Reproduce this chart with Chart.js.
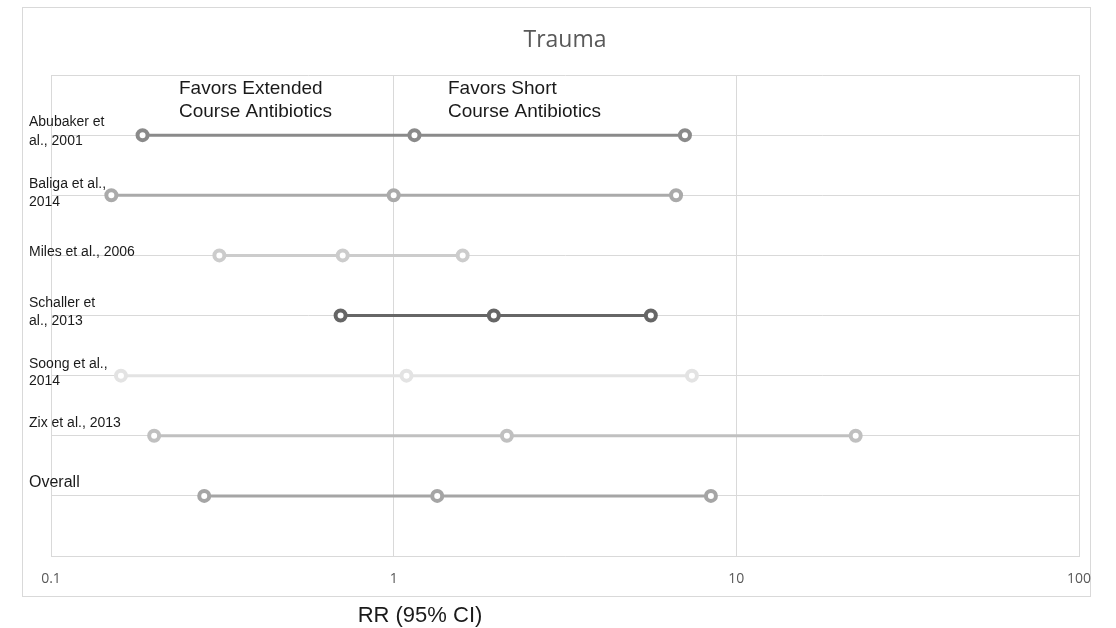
<!DOCTYPE html>
<html>
<head>
<meta charset="utf-8">
<script src="https://cdn.jsdelivr.net/npm/chart.js@4/dist/chart.umd.min.js"></script>
<style>
  html, body { margin: 0; padding: 0; background: #ffffff; }
  #wrap { position: relative; width: 1116px; height: 628px; }
</style>
</head>
<body>
<div id="wrap"><canvas id="chart" width="1116" height="628"></canvas></div>
<script>
// ======================
// DATA
// ======================
const studies = [
  ['Abubaker et', 'al., 2001'],
  ['Baliga et al.,', '2014'],
  ['Miles et al., 2006'],
  ['Schaller et', 'al., 2013'],
  ['Soong et al.,', '2014'],
  ['Zix et al., 2013'],
  ['Overall']
];
const rrLow  = [0.185, 0.15, 0.31, 0.70, 0.16, 0.20, 0.28];
const rrMid  = [1.15, 1.00, 0.71, 1.96, 1.09, 2.14, 1.34];
const rrHigh = [7.08, 6.67, 1.59, 5.63, 7.42, 22.3, 8.43];
const xTicks = [0.1, 1, 10, 100];

const warnaBaris = ['#8a8a8a', '#aaaaaa', '#cccccc', '#666666', '#e3e3e3', '#c0c0c0', '#a5a5a5'];
const gridColor = '#d9d9d9';

// posisi teks label baris relatif ke garis baris
const labelOffset = [[-12.5, 6], [-11.5, 6.5], [-3], [-12, 6], [-11.5, 6], [-12.5], [-13.5]];

// ======================
// DATASETS
// ======================
const datasets = studies.map((s, i) => ({
  label: s.join(' '),
  data: [
    { x: rrLow[i], y: i + 1 },
    { x: rrMid[i], y: i + 1 },
    { x: rrHigh[i], y: i + 1 }
  ],
  showLine: true,
  borderColor: warnaBaris[i],
  backgroundColor: '#ffffff',
  borderWidth: 3,
  pointRadius: 5,
  pointBorderWidth: 4,
  pointBackgroundColor: '#ffffff',
  pointBorderColor: warnaBaris[i]
}));

// ======================
// TEKS TAMBAHAN
// ======================
const teksPlugin = {
  id: 'teks',
  beforeDraw(chart) {
    const ctx = chart.ctx;
    ctx.save();
    ctx.strokeStyle = gridColor;
    ctx.lineWidth = 1;
    ctx.strokeRect(22.5, 7.5, 1068, 589);
    ctx.restore();
  },
  afterDraw(chart) {
    const ctx = chart.ctx;
    const y = chart.scales.y;
    ctx.save();
    ctx.fillStyle = '#1a1a1a';
    ctx.textAlign = 'left';
    ctx.textBaseline = 'middle';

    studies.forEach((lines, i) => {
      const py = y.getPixelForValue(i + 1);
      ctx.font = (i === studies.length - 1 ? '16px' : '14px') + ' "Liberation Sans", Arial, sans-serif';
      lines.forEach((t, j) => ctx.fillText(t, 29, py + labelOffset[i][j]));
    });

    ctx.font = '19px "Liberation Sans", Arial, sans-serif';
    ctx.fillText('Favors Extended', 179, 89);
    ctx.fillText('Course Antibiotics', 179, 112);
    ctx.fillText('Favors Short', 448, 89);
    ctx.fillText('Course Antibiotics', 448, 112);

    ctx.font = '22px "Liberation Sans", Arial, sans-serif';
    ctx.textAlign = 'center';
    ctx.fillText('RR (95% CI)', 420, 616);
    ctx.restore();
  }
};

new Chart(document.getElementById('chart'), {
  type: 'scatter',
  data: { datasets },
  plugins: [teksPlugin],
  options: {
    responsive: false,
    animation: false,
    layout: { padding: { left: 51, right: 37, top: 0, bottom: 0 } },
    plugins: {
      legend: { display: false },
      tooltip: { enabled: false },
      title: {
        display: true,
        text: 'Trauma',
        fullSize: false,
        color: '#595959',
        font: { family: '"Open Sans", sans-serif', size: 23, weight: 'normal' },
        padding: { top: 26.5, bottom: 20.9 }
      }
    },
    scales: {
      x: {
        type: 'logarithmic',
        min: 0.1,
        max: 100,
        afterBuildTicks: s => { s.ticks = xTicks.map(v => ({ value: v })); },
        afterFit: s => { s.height = 72; },
        ticks: {
          callback: v => String(v),
          color: '#595959',
          padding: 15,
          maxRotation: 0,
          font: { family: '"Open Sans", sans-serif', size: 14 }
        },
        grid: { color: gridColor, drawTicks: false },
        border: { color: gridColor }
      },
      y: {
        type: 'linear',
        min: 0,
        max: 8,
        reverse: true,
        afterFit: s => { s.width = 0; },
        ticks: { stepSize: 1, display: false },
        grid: { color: gridColor, drawTicks: false },
        border: { color: gridColor }
      }
    }
  }
});
</script>
</body>
</html>
